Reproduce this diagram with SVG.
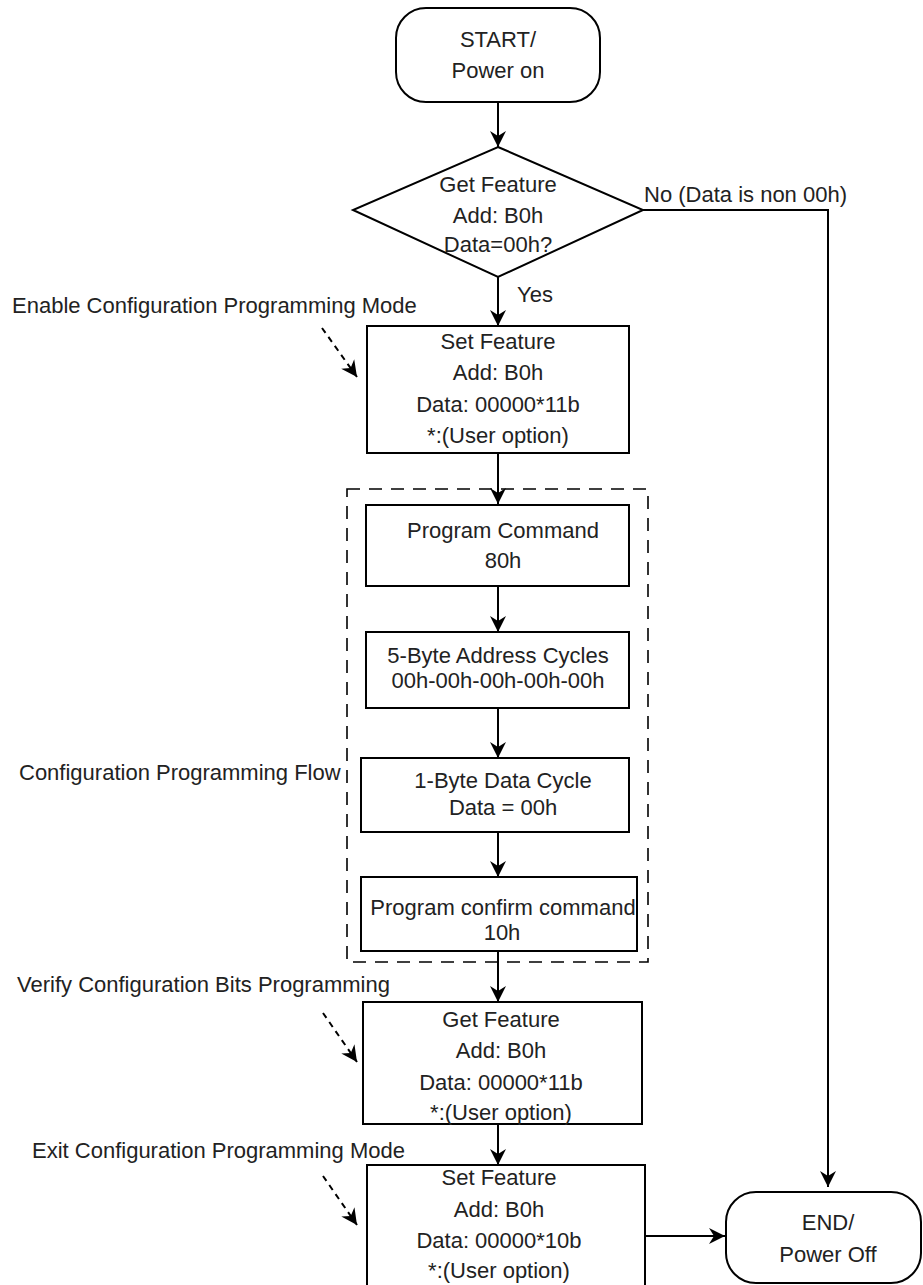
<svg xmlns="http://www.w3.org/2000/svg" width="923" height="1285" viewBox="0 0 923 1285">
<style>
.box{fill:#fff;stroke:#000;stroke-width:2}
.t{font-family:"Liberation Sans",Arial,sans-serif;font-size:22px;fill:#222;text-anchor:middle}
.tl{font-family:"Liberation Sans",Arial,sans-serif;font-size:22px;fill:#222;text-anchor:start}
.c{fill:none;stroke:#000;stroke-width:2}
.d{fill:none;stroke:#000;stroke-width:2;stroke-dasharray:6 5}
.grp{fill:none;stroke:#000;stroke-width:1.6;stroke-dasharray:13 9}
</style>
<defs>
<marker id="ah" markerUnits="userSpaceOnUse" markerWidth="18" markerHeight="18" viewBox="-16 -9 18 18" refX="0" refY="0" orient="auto">
<path d="M0,0 L-16,-8 L-11,0 L-16,8 Z" fill="#000"/>
</marker>
</defs>
<rect width="923" height="1285" fill="#fff"/>

<g id="group-config">
<rect class="grp" x="347" y="489" width="301" height="473"/>
<text class="tl" x="19" y="780">Configuration Programming Flow</text>
</g>

<g id="connectors">
<line class="c" x1="498" y1="102" x2="498" y2="147" marker-end="url(#ah)"/>
<line class="c" x1="498" y1="277" x2="498" y2="326" marker-end="url(#ah)"/>
<polyline class="c" points="643,210 828,210 828,1187" marker-end="url(#ah)"/>
<line class="c" x1="498" y1="453" x2="498" y2="504" marker-end="url(#ah)"/>
<line class="c" x1="498" y1="586" x2="498" y2="632" marker-end="url(#ah)"/>
<line class="c" x1="498" y1="708" x2="498" y2="758" marker-end="url(#ah)"/>
<line class="c" x1="498" y1="832" x2="498" y2="877" marker-end="url(#ah)"/>
<line class="c" x1="498" y1="951" x2="498" y2="1002" marker-end="url(#ah)"/>
<line class="c" x1="498" y1="1124" x2="498" y2="1165" marker-end="url(#ah)"/>
<line class="c" x1="645" y1="1236" x2="725" y2="1236" marker-end="url(#ah)"/>
<line class="d" x1="322" y1="328" x2="357" y2="377" marker-end="url(#ah)"/>
<line class="d" x1="323" y1="1013" x2="357" y2="1062" marker-end="url(#ah)"/>
<line class="d" x1="323" y1="1176" x2="357" y2="1225" marker-end="url(#ah)"/>
<text class="tl" x="517" y="302">Yes</text>
<text class="tl" x="644" y="202">No (Data is non 00h)</text>
</g>

<g id="start">
<rect class="box" x="396" y="8" width="204" height="94" rx="30"/>
<text class="t" x="498" y="47">START/</text>
<text class="t" x="498" y="78">Power on</text>
</g>

<g id="decision">
<polygon class="box" points="498,147 643,210 498,277 353,210"/>
<text class="t" x="498" y="192">Get Feature</text>
<text class="t" x="498" y="223">Add: B0h</text>
<text class="t" x="498" y="252">Data=00h?</text>
</g>

<g id="enable-label">
<text class="tl" x="12" y="313">Enable Configuration Programming Mode</text>
</g>

<g id="set-feature-1">
<rect class="box" x="367" y="326" width="262" height="127"/>
<text class="t" x="498" y="349">Set Feature</text>
<text class="t" x="498" y="380">Add: B0h</text>
<text class="t" x="498" y="412">Data: 00000*11b</text>
<text class="t" x="498" y="443">*:(User option)</text>
</g>

<g id="program-command">
<rect class="box" x="366" y="505" width="263" height="81"/>
<text class="t" x="503" y="538">Program Command</text>
<text class="t" x="503" y="568">80h</text>
</g>

<g id="address-cycles">
<rect class="box" x="366" y="632" width="263" height="76"/>
<text class="t" x="498" y="663">5-Byte Address Cycles</text>
<text class="t" x="498" y="688">00h-00h-00h-00h-00h</text>
</g>

<g id="data-cycle">
<rect class="box" x="361" y="758" width="268" height="74"/>
<text class="t" x="503" y="788">1-Byte Data Cycle</text>
<text class="t" x="503" y="815">Data = 00h</text>
</g>

<g id="confirm-command">
<rect class="box" x="361" y="877" width="276" height="74"/>
<text class="t" x="503" y="915">Program confirm command</text>
<text class="t" x="502" y="940">10h</text>
</g>

<g id="verify-label">
<text class="tl" x="17" y="992">Verify Configuration Bits Programming</text>
</g>

<g id="get-feature-2">
<rect class="box" x="363" y="1002" width="279" height="122"/>
<text class="t" x="501" y="1027">Get Feature</text>
<text class="t" x="501" y="1058">Add: B0h</text>
<text class="t" x="501" y="1090">Data: 00000*11b</text>
<text class="t" x="501" y="1120">*:(User option)</text>
</g>

<g id="exit-label">
<text class="tl" x="32" y="1158">Exit Configuration Programming Mode</text>
</g>

<g id="set-feature-3">
<rect class="box" x="367" y="1165" width="278" height="130"/>
<text class="t" x="499" y="1185">Set Feature</text>
<text class="t" x="499" y="1217">Add: B0h</text>
<text class="t" x="499" y="1248">Data: 00000*10b</text>
<text class="t" x="499" y="1278">*:(User option)</text>
</g>

<g id="end">
<rect class="box" x="726" y="1192" width="195" height="91" rx="30"/>
<text class="t" x="828" y="1230">END/</text>
<text class="t" x="828" y="1262">Power Off</text>
</g>
</svg>
